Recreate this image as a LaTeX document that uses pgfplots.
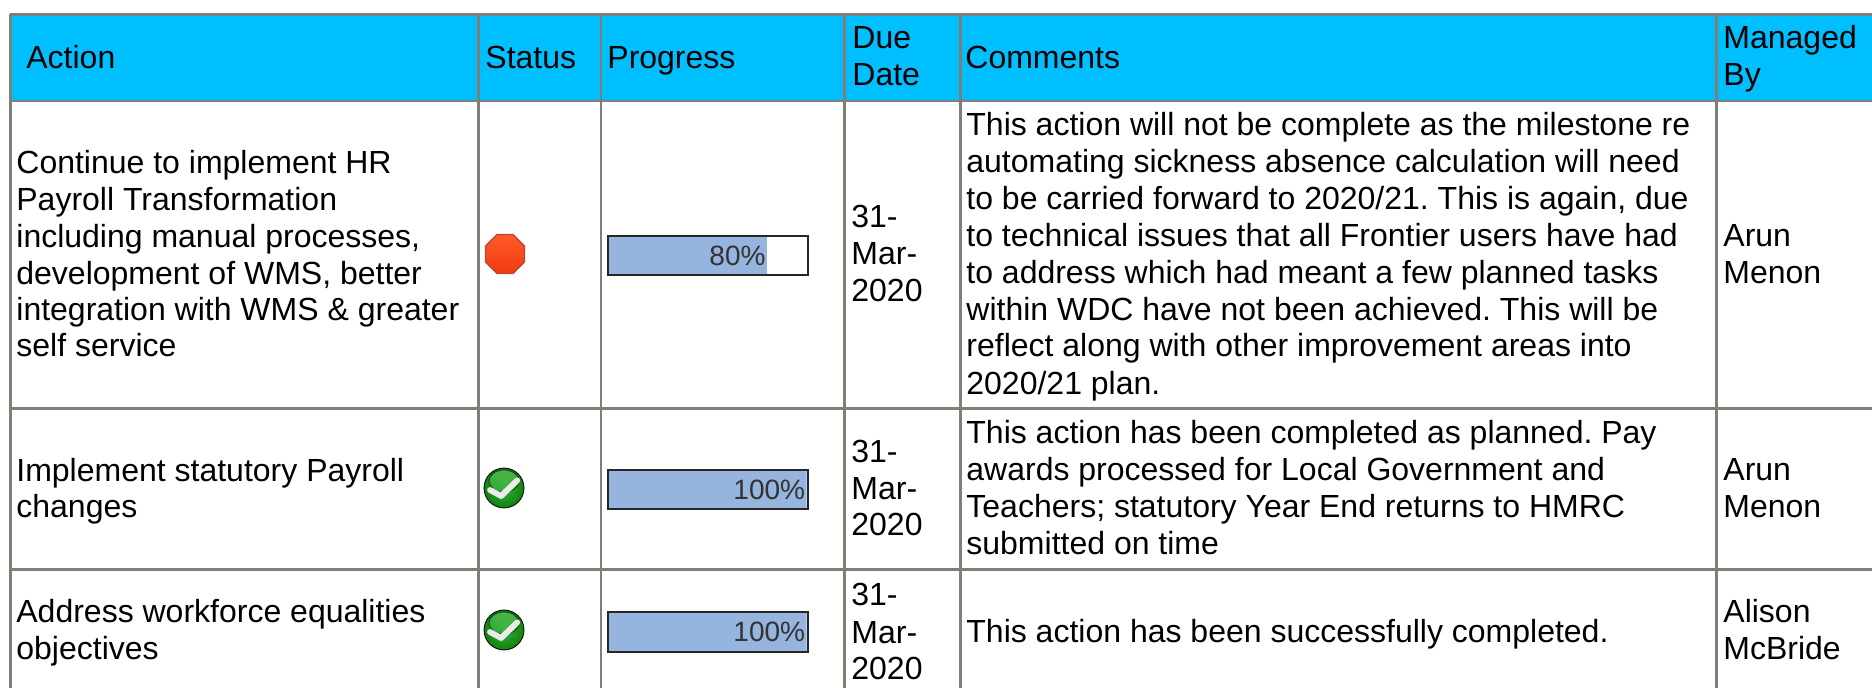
\documentclass[border=0pt]{standalone}
\usepackage{fontspec}
\setmainfont{Liberation Sans}
\usepackage{pgfplots}
\pgfplotsset{compat=1.18}
\definecolor{hdr}{HTML}{00BFFF}
\definecolor{hline}{HTML}{808080}
\definecolor{gline}{HTML}{7F7F75}
\definecolor{barblue}{HTML}{95B4DE}
\definecolor{stoptop}{HTML}{FF5A2A}
\definecolor{stopbot}{HTML}{F23A12}
\definecolor{stopedge}{HTML}{B8452E}
\definecolor{okin}{HTML}{35B035}
\definecolor{okout}{HTML}{0F820F}
\definecolor{oklight}{HTML}{6FD06F}
\pgfdeclareplotmark{stopicon}{%
  \path[top color=stoptop,bottom color=stopbot,draw=stopedge,line width=0.6pt]
    (-4.04pt,9.75pt) -- (4.04pt,9.75pt) -- (9.75pt,4.04pt) -- (9.75pt,-4.04pt) -- (4.04pt,-9.75pt) -- (-4.04pt,-9.75pt) -- (-9.75pt,-4.04pt) -- (-9.75pt,4.04pt) -- cycle;
}
\pgfdeclareplotmark{okicon}{%
  \shade[inner color=okin,outer color=okout] (0pt,0pt) circle (10pt);
  \shade[top color=oklight,bottom color=okin,opacity=0.6] (0pt,3.5pt) ellipse (7.5pt and 5.5pt);
  \draw[white!92!black,line width=2.9pt,line cap=round,line join=round] (-7pt,-1pt) -- (-1.4pt,-4pt) -- (6.6pt,3.8pt);
}
\tikzset{tx/.style={anchor=base west,inner sep=0pt,text=black,font=\fontsize{16}{16}\selectfont\frenchspacing}}
\newcommand{\T}[3]{\node[tx] at (axis cs:#1,#2) {#3};}
\newcommand{\HL}[1]{\draw[gline,line width=1.35pt] (axis cs:9.5,#1) -- (axis cs:1872,#1);}
\begin{document}
\begin{tikzpicture}
\begin{axis}[
  name=table, at={(0pt,0pt)}, anchor=south west,
  scale only axis, width=936pt, height=344pt,
  xmin=0, xmax=1872, ymin=0, ymax=688, y dir=reverse,
  hide axis, clip=false]
  \path[use as bounding box] (axis cs:0,0) rectangle (axis cs:1872,688);
  \fill[hdr] (axis cs:11,14) rectangle (axis cs:1872,101);
  \draw[hline,line width=1.25pt] (axis cs:9.5,14.5) -- (axis cs:1872,14.5);
  \draw[hline,line width=1.25pt] (axis cs:9.5,100.8) -- (axis cs:1872,100.8);
  \HL{408.7}
  \HL{569.4}
  \foreach \x in {10.7,478.7,601,844.5,960.5,1716.7}{
    \edef\tmp{\noexpand\draw[gline,line width=1.25pt] (axis cs:\x,14) -- (axis cs:\x,688);}\tmp
  }
  % header
  \T{26}{69}{Action}
  \T{485}{69}{Status}
  \T{607}{69}{Progress}
  \T{852}{49}{Due}
  \T{852}{86}{Date}
  \T{965}{69}{Comments}
  \T{1723}{49}{Managed}
  \T{1723}{86}{By}
  % action
  \T{16}{174}{Continue to implement HR}
  \T{16}{211}{Payroll Transformation}
  \T{16}{248}{including manual processes,}
  \T{16}{285}{development of WMS, better}
  \T{16}{321}{integration with WMS \& greater}
  \T{16}{357}{self service}
  \T{16}{482}{Implement statutory Payroll}
  \T{16}{518}{changes}
  \T{16}{623}{Address workforce equalities}
  \T{16}{660}{objectives}
  % dates
  \T{851}{228}{31-}\T{851}{265}{Mar-}\T{851}{302}{2020}
  \T{851}{463}{31-}\T{851}{500}{Mar-}\T{851}{536}{2020}
  \T{851}{605}{31-}\T{851}{643}{Mar-}\T{851}{679}{2020}
  % comments
  \T{966}{136}{This action will not be complete as the milestone re}
  \T{966}{173}{automating sickness absence calculation will need}
  \T{966}{210}{to be carried forward to 2020/21. This is again, due}
  \T{966}{247}{to technical issues that all Frontier users have had}
  \T{966}{284}{to address which had meant a few planned tasks}
  \T{966}{321}{within WDC have not been achieved. This will be}
  \T{966}{357}{reflect along with other improvement areas into}
  \T{966}{395}{2020/21 plan.}
  \T{966}{444}{This action has been completed as planned. Pay}
  \T{966}{481}{awards processed for Local Government and}
  \T{966}{518}{Teachers; statutory Year End returns to HMRC}
  \T{966}{555}{submitted on time}
  \T{966}{642}{This action has been successfully completed.}
  % managed
  \T{1723}{247}{Arun}\T{1723}{284}{Menon}
  \T{1723}{481}{Arun}\T{1723}{518}{Menon}
  \T{1723}{623}{Alison}\T{1723}{660}{McBride}
  % status icons
  \addplot[only marks,mark=stopicon] coordinates {(505,254)};
  \addplot[only marks,mark=okicon] coordinates {(504,488) (504,630)};
\end{axis}
\begin{axis}[
  at={(304.25pt,0pt)}, anchor=south west,
  scale only axis, width=99pt, height=344pt,
  xmin=0, xmax=100, ymin=0, ymax=688, y dir=reverse,
  hide axis, clip=false,
  xbar, bar width=20pt,
  point meta=x,
  /pgf/number format/assume math mode=true,
  nodes near coords={\pgfmathprintnumber{\pgfplotspointmeta}\%},
  nodes near coords align={anchor=east},
  every node near coord/.append style={inner sep=0pt,xshift=-0.5pt,text=black!80,font=\fontsize{14}{14}\selectfont}]
  \addplot[fill=barblue,draw=none,bar shift=0pt] coordinates {(80,255.6) (100,489.6) (100,631.6)};
  \foreach \a/\b in {235.7/275.5,469.7/509.5,611.7/651.5}{
    \edef\tmp{\noexpand\draw[black!85,line width=1pt] (axis cs:-0.35,\a) rectangle (axis cs:100.5,\b);}\tmp
  }
\end{axis}
\end{tikzpicture}
\end{document}
